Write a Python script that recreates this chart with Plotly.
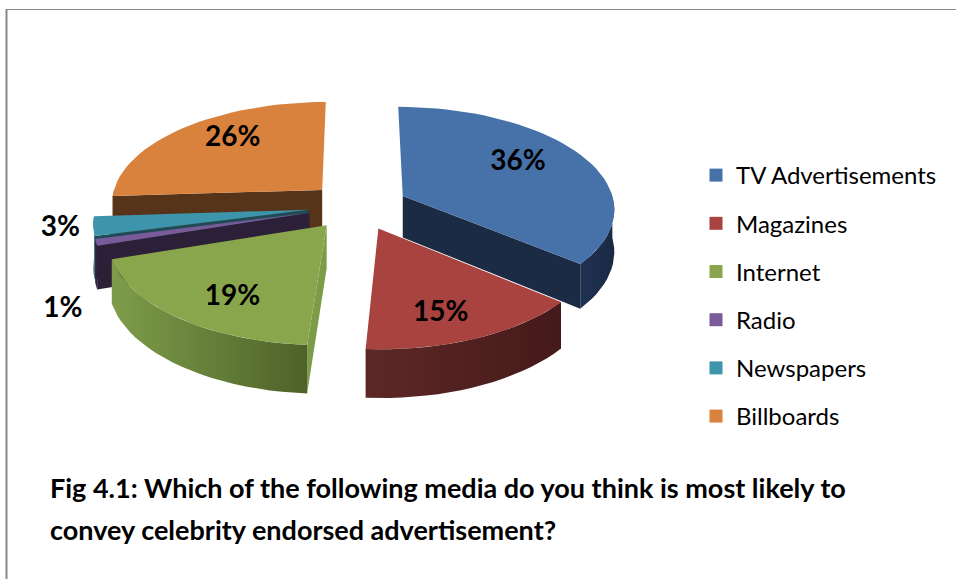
import numpy as np
import plotly.graph_objects as go

# Survey answers: preferred medium for celebrity-endorsed advertising (% of respondents)
media = ["TV Advertisements", "Magazines", "Internet", "Radio", "Newspapers", "Billboards"]
shares = [36, 15, 19, 1, 3, 26]

# Styling per slice: top face, curved outer wall (left->right gradient), radial cut face
top_colors = ["#4672A9", "#A8433F", "#8AA64D", "#7A5B99", "#3D95AC", "#D9823D"]
wall_colors = [("#1F3252", "#1A2A44"), ("#5E2727", "#451A1A"), ("#7E9D4A", "#4E6229"),
               ("#352846", "#2A1F37"), ("#26596A", "#1E4753"), ("#6A4020", "#55321A")]
face_colors = ["#1B2B44", "#5A2525", "#7D9C47", "#2C2039", "#1F4B57", "#563319"]

# Page / pie geometry (pixels)
W, H = 956, 579
CX, CY = 358, 206          # pie centre on screen
RX, RY = 212, 101.4        # projected radii of the top disc
PERSP = 0.1142             # perspective strength (front is larger than back)
EXPLODE = 0.236            # slice explosion, fraction of radius
DEPTH = 42                 # thickness of the pie
FONT = "Lato"


def project(X, Wd, drop=0.0):
    """Map disc coords (X right, Wd toward the viewer) to screen pixels."""
    s = 1.0 / (1.0 - PERSP * Wd)
    return CX + RX * X * s, CY + RY * Wd * s + drop * s


def arc(ox, ow, t0, t1, drop=0.0, n=60):
    t = np.linspace(t0, t1, max(2, int(n * (t1 - t0) / np.pi) + 2))
    return project(ox + np.sin(t), ow - np.cos(t), drop)


fig = go.Figure()

total = float(sum(shares))
bounds = np.concatenate([[0.0], np.cumsum(shares)]) / total * 2 * np.pi
slices = []
for i, v in enumerate(shares):
    t0, t1 = bounds[i], bounds[i + 1]
    tm = 0.5 * (t0 + t1)
    ox, ow = EXPLODE * np.sin(tm), -EXPLODE * np.cos(tm)
    slices.append((i, t0, t1, tm, ox, ow))


def poly(xs, ys, **kw):
    fig.add_trace(go.Scatter(x=list(xs) + [xs[0]], y=list(ys) + [ys[0]], mode="lines",
                             fill="toself", line=dict(width=0), hoverinfo="skip",
                             showlegend=False, **kw))


# paint from the back of the pie to the front
for i, t0, t1, tm, ox, ow in sorted(slices, key=lambda s: -np.cos(s[3])):
    ax, ay = project(ox, ow)
    bx, by = project(ox, ow, DEPTH)

    # radial cut faces that turn toward the viewer
    for t, visible in ((t0, np.sin(t0) < -1e-9), (t1, np.sin(t1) > 1e-9)):
        if visible:
            rx, ry = project(ox + np.sin(t), ow - np.cos(t))
            rbx, rby = project(ox + np.sin(t), ow - np.cos(t), DEPTH)
            poly([ax, rx, rbx, bx], [ay, ry, rby, by], fillcolor=face_colors[i])

    # curved outer wall, front half only
    w0, w1 = max(t0, np.pi / 2), min(t1, 3 * np.pi / 2)
    if w1 > w0:
        tx, ty = arc(ox, ow, w0, w1)
        dx, dy = arc(ox, ow, w0, w1, DEPTH)
        c0, c1 = wall_colors[i]
        poly(np.concatenate([tx, dx[::-1]]), np.concatenate([ty, dy[::-1]]),
             fillcolor=c1,
             fillgradient=dict(type="horizontal", colorscale=[[0, c0], [1, c1]]))

    # top face
    tx, ty = arc(ox, ow, t0, t1)
    poly(np.concatenate([[ax], tx]), np.concatenate([[ay], ty]), fillcolor=top_colors[i])

# value labels: inside the larger slices, outside the thin ones
lab_x, lab_y, lab_t = [], [], []
for i, t0, t1, tm, ox, ow in slices:
    if shares[i] >= 10:
        lx, ly = project(ox + 0.64 * np.sin(tm), ow - 0.64 * 1.25 * np.cos(tm))
    else:
        lx, ly = project(ox + 1.15 * np.sin(tm), ow - 1.15 * np.cos(tm))
        if media[i] == "Radio":
            ly += 63   # moved below the Newspapers label
    lab_x.append(lx)
    lab_y.append(ly)
    lab_t.append(f"{shares[i]}%")

fig.add_trace(go.Scatter(x=lab_x, y=lab_y, text=lab_t, mode="text", hoverinfo="skip",
                         showlegend=False,
                         textfont=dict(family=FONT, size=28, color="black", weight="bold")))

# legend entries
for i, name in enumerate(media):
    fig.add_trace(go.Scatter(x=[None], y=[None], mode="markers", name=name,
                             legendgroup=name,
                             marker=dict(symbol="square", size=13, color=top_colors[i],
                                         line=dict(width=0))))

title_lines = ["Fig 4.1: Which of the following media do you think is most likely to",
               "convey celebrity endorsed advertisement?"]
for k, line in enumerate(title_lines):
    fig.add_annotation(text=line, xref="paper", yref="paper", x=48 / W, y=1 - (487 + 42 * k) / H,
                       xanchor="left", yanchor="middle", showarrow=False,
                       font=dict(family=FONT, size=27, color="black", weight="bold"))

# frame lines along the top and left edges
fig.add_shape(type="line", xref="paper", yref="paper", x0=6 / W, x1=1, y0=1 - 9.5 / H, y1=1 - 9.5 / H,
              line=dict(color="#888888", width=1.2))
fig.add_shape(type="line", xref="paper", yref="paper", x0=6.5 / W, x1=6.5 / W, y0=0, y1=1 - 9 / H,
              line=dict(color="#888888", width=2))

fig.update_layout(
    width=W, height=H, autosize=False,
    margin=dict(l=0, r=0, t=0, b=0),
    paper_bgcolor="white", plot_bgcolor="white",
    xaxis=dict(range=[0, W], visible=False, fixedrange=True),
    yaxis=dict(range=[H, 0], visible=False, fixedrange=True),
    legend=dict(x=696 / W, y=1 - 153 / H, xanchor="left", yanchor="top",
                font=dict(family=FONT, size=24, color="black"),
                tracegroupgap=14, itemwidth=30, bgcolor="rgba(0,0,0,0)"),
    showlegend=True,
)

fig.write_html("out.html")
